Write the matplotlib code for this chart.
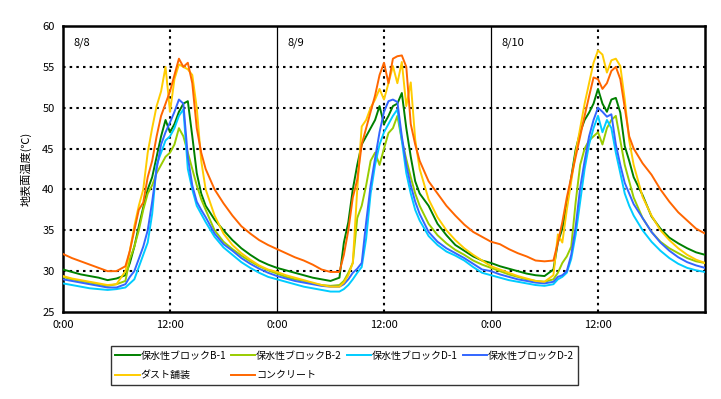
import matplotlib
matplotlib.use("Agg")
import matplotlib.pyplot as plt

plt.rcParams['font.family'] = ['Noto Sans CJK JP', 'DejaVu Sans']

# hours within each day at which values were read
HOURS = [0, 1, 2, 3, 4, 5, 6, 7, 7.5, 8, 8.5, 9, 9.5, 10, 10.5, 11, 11.5, 12,
         12.5, 13, 13.5, 14, 14.5, 15, 15.5, 16, 17, 18, 19, 20, 21, 22, 23]
N_DAYS = 3
day_labels = ["8/8", "8/9", "8/10"]
x_tick_labels = ["0:00", "12:00", "0:00", "12:00", "0:00", "12:00"]

series_names = ["保水性ブロックB-1", "保水性ブロックB-2", "保水性ブロックD-1",
                "保水性ブロックD-2", "ダスト舗装", "コンクリート"]

b1 = [30.2, 29.9, 29.6, 29.4, 29.2, 28.9, 29.1, 29.5, 31.0, 33.0, 35.5, 37.8, 40.0, 41.5, 44.0, 46.5, 48.5, 47.0, 48.0, 49.5, 50.5, 50.8, 46.5, 42.0, 39.5, 38.0, 36.3, 35.0, 33.8, 32.8, 32.0, 31.3, 30.8,
      30.4, 30.1, 29.8, 29.5, 29.2, 29.0, 28.8, 29.2, 33.5, 36.0, 40.0, 43.0, 45.5, 46.5, 47.5, 48.5, 50.2, 48.0, 49.0, 50.2, 50.5, 51.8, 47.5, 44.0, 41.0, 39.5, 38.0, 35.8, 34.4, 33.2, 32.5, 31.8, 31.3,
      31.0, 30.6, 30.3, 30.0, 29.7, 29.5, 29.4, 30.2, 33.5, 35.2, 38.0, 41.5, 44.9, 47.0, 48.5, 49.4, 50.5, 52.3, 50.5, 49.5, 51.0, 51.2, 49.4, 45.3, 43.5, 41.5, 39.3, 36.7, 35.2, 34.1, 33.4, 32.8, 32.3,
      32.0]
b2 = [29.3, 29.0, 28.8, 28.6, 28.4, 28.2, 28.4, 28.8, 31.5, 33.0, 35.0, 37.5, 39.5, 40.5, 42.0, 43.0, 44.0, 44.5, 45.5, 47.5, 46.5, 44.5, 42.5, 40.5, 38.8, 37.5, 35.0, 33.6, 32.7, 31.9, 31.2, 30.6, 30.1,
      29.7, 29.3, 29.0, 28.8, 28.5, 28.3, 28.2, 28.3, 28.8, 29.8, 31.0, 36.5, 38.0, 40.5, 43.5, 44.5, 43.0, 45.0, 46.9, 47.5, 49.0, 46.0, 43.7, 41.5, 39.5, 38.0, 35.8, 34.4, 33.4, 32.6, 32.0, 31.3, 30.8,
      30.4, 30.0, 29.6, 29.3, 29.0, 28.8, 28.7, 29.0, 29.8, 31.0, 31.8, 33.0, 38.5, 43.0, 45.0, 46.0, 46.5, 47.0, 45.5, 47.5, 48.5, 49.0, 46.0, 43.0, 41.0, 39.0, 36.5, 34.8, 33.6, 32.8, 32.2, 31.6, 31.2,
      31.0]
d1 = [28.5, 28.3, 28.1, 27.9, 27.8, 27.7, 27.8, 28.0, 28.5, 29.0, 30.5, 32.0, 33.5, 37.0, 43.0, 44.5, 46.0, 46.5, 47.5, 49.0, 49.8, 42.5, 40.0, 38.0, 37.0, 36.0, 34.2, 32.9, 32.0, 31.1, 30.4, 29.8, 29.3,
      29.0, 28.7, 28.4, 28.1, 27.9, 27.7, 27.5, 27.5, 27.8, 28.3, 29.0, 29.8, 30.5, 34.0, 39.5, 43.0, 45.5, 47.0, 48.0, 49.0, 49.8, 46.0, 42.0, 39.5, 37.5, 36.2, 34.3, 33.2, 32.4, 31.9, 31.3, 30.5, 29.8,
      29.5, 29.2, 28.9, 28.7, 28.5, 28.3, 28.2, 28.4, 29.0, 29.3, 29.8, 31.5, 34.5, 38.5, 42.5, 45.5, 47.5, 49.0, 47.0, 48.5, 47.5, 44.5, 42.0, 39.5, 38.0, 36.8, 35.0, 33.6, 32.5, 31.6, 30.9, 30.4, 30.1,
      29.9]
d2 = [29.0, 28.8, 28.6, 28.4, 28.2, 28.0, 28.0, 28.4, 29.3, 30.0, 31.5, 33.0, 35.0, 38.5, 42.5, 45.5, 47.0, 48.2, 49.5, 51.0, 50.5, 44.0, 40.5, 38.5, 37.5, 36.6, 34.6, 33.3, 32.5, 31.6, 30.9, 30.3, 29.8,
      29.4, 29.1, 28.8, 28.6, 28.4, 28.2, 28.1, 28.1, 28.4, 29.0, 29.8, 30.3, 31.0, 36.0, 40.5, 43.8, 47.0, 49.5, 50.8, 51.0, 50.7, 46.5, 43.0, 40.5, 38.5, 37.0, 34.8, 33.6, 32.8, 32.2, 31.6, 30.9, 30.2,
      30.0, 29.6, 29.3, 29.0, 28.8, 28.6, 28.5, 28.7, 29.3, 29.5, 30.0, 32.0, 35.5, 40.2, 43.5, 46.5, 48.5, 50.0, 49.5, 48.9, 49.2, 45.5, 43.0, 40.8, 39.5, 38.2, 36.5, 34.8, 33.5, 32.5, 31.7, 31.1, 30.7,
      30.4]
dust = [29.4, 29.1, 28.9, 28.7, 28.5, 28.3, 28.4, 30.0, 32.5, 35.5, 38.0, 40.0, 44.5, 47.5, 50.2, 52.0, 55.0, 49.5, 53.5, 55.3, 55.0, 54.7, 54.0, 50.0, 43.5, 40.0, 36.8, 34.6, 33.2, 32.2, 31.4, 30.7, 30.2,
        29.9, 29.5, 29.2, 28.9, 28.6, 28.3, 28.1, 28.1, 28.6, 29.5, 31.0, 40.0, 47.7, 48.5, 50.0, 51.0, 52.3, 51.0, 53.0, 55.1, 53.0, 55.6, 50.2, 53.1, 46.1, 42.5, 38.8, 36.6, 35.0, 33.8, 32.8, 32.0, 31.3,
        30.6, 30.2, 29.8, 29.4, 29.1, 28.8, 28.7, 29.5, 34.5, 33.5, 37.5, 41.0, 44.5, 47.5, 50.5, 53.0, 55.5, 57.0, 56.5, 54.3, 55.8, 56.0, 55.1, 51.0, 46.0, 43.0, 39.1, 36.8, 35.0, 33.8, 32.8, 32.0, 31.4,
        31.0]
concrete = [32.1, 31.6, 31.2, 30.8, 30.4, 30.0, 30.0, 30.6, 32.5, 35.0, 37.5, 38.4, 41.5, 43.5, 46.5, 49.0, 50.5, 52.0, 54.0, 56.0, 55.0, 55.5, 53.0, 47.5, 44.5, 42.5, 40.0, 38.3, 36.8, 35.5, 34.6, 33.8, 33.2,
            32.7, 32.2, 31.7, 31.3, 30.8, 30.2, 29.9, 29.9, 32.0, 35.0, 39.0, 41.2, 45.5, 47.5, 49.5, 51.5, 54.0, 55.5, 53.0, 56.0, 56.3, 56.4, 55.0, 48.0, 45.5, 43.5, 41.0, 39.5, 38.0, 36.8, 35.7, 34.8, 34.2,
            33.6, 33.3, 32.7, 32.2, 31.8, 31.3, 31.2, 31.3, 33.5, 36.0, 39.0, 41.5, 44.0, 46.5, 49.0, 51.4, 53.7, 53.5, 52.3, 53.0, 54.5, 55.0, 53.5, 50.0, 46.5, 45.0, 43.2, 41.8, 40.0, 38.5, 37.2, 36.2, 35.2,
            34.6]

colors = ["#008000", "#99cc00", "#00ccff", "#3366ff", "#ffcc00", "#ff6600"]

t = [24 * d + h for d in range(N_DAYS) for h in HOURS] + [24 * N_DAYS]

fig = plt.figure(figsize=(7.21, 3.99), dpi=100)
ax = fig.add_axes([63 / 721, 1 - 312 / 399, (705 - 63) / 721, (312 - 26) / 399])

# grid
for y in [30, 35, 40, 45, 50, 55]:
    ax.axhline(y, color="black", lw=1.5, ls=(0, (1.2, 2.0)), zorder=1)
for xv in [12, 36, 60]:
    ax.axvline(xv, color="black", lw=1.5, ls=(0, (1.2, 2.0)), zorder=1)
for xv in [24, 48]:
    ax.axvline(xv, color="black", lw=0.9, zorder=1)

lines = []
for vals, c, name in zip([b1, b2, d1, d2, dust, concrete], colors, series_names):
    ln, = ax.plot(t, vals, color=c, lw=1.4, label=name, zorder=3)
    lines.append(ln)

ax.set_xlim(0, 72)
ax.set_ylim(25, 60)
ax.set_xticks([0, 12, 24, 36, 48, 60])
ax.set_xticklabels(x_tick_labels)
ax.set_yticks([25, 30, 35, 40, 45, 50, 55, 60])
ax.tick_params(length=0, labelsize=8, pad=6)
for s in ax.spines.values():
    s.set_linewidth(1.8)
    s.set_color("black")

ax.set_ylabel("地表面温度(℃)", fontsize=8, labelpad=8)

for i, lab in enumerate(day_labels):
    ax.text(24 * i + 1.2, 58.0, lab, fontsize=8, va="center", ha="left")

order = [0, 4, 1, 5, 2, 3]
leg = fig.legend([lines[i] for i in order], [series_names[i] for i in order],
                 ncol=4, loc="upper left", bbox_to_anchor=(111 / 721, 1 - 346 / 399),
                 fontsize=7.2, frameon=True, fancybox=False, edgecolor="black",
                 handlelength=2.4, handletextpad=0.1, columnspacing=0.5,
                 borderpad=0.45, labelspacing=0.95, borderaxespad=0)
leg.get_frame().set_linewidth(1.0)

fig.savefig("out.png", dpi=100)
